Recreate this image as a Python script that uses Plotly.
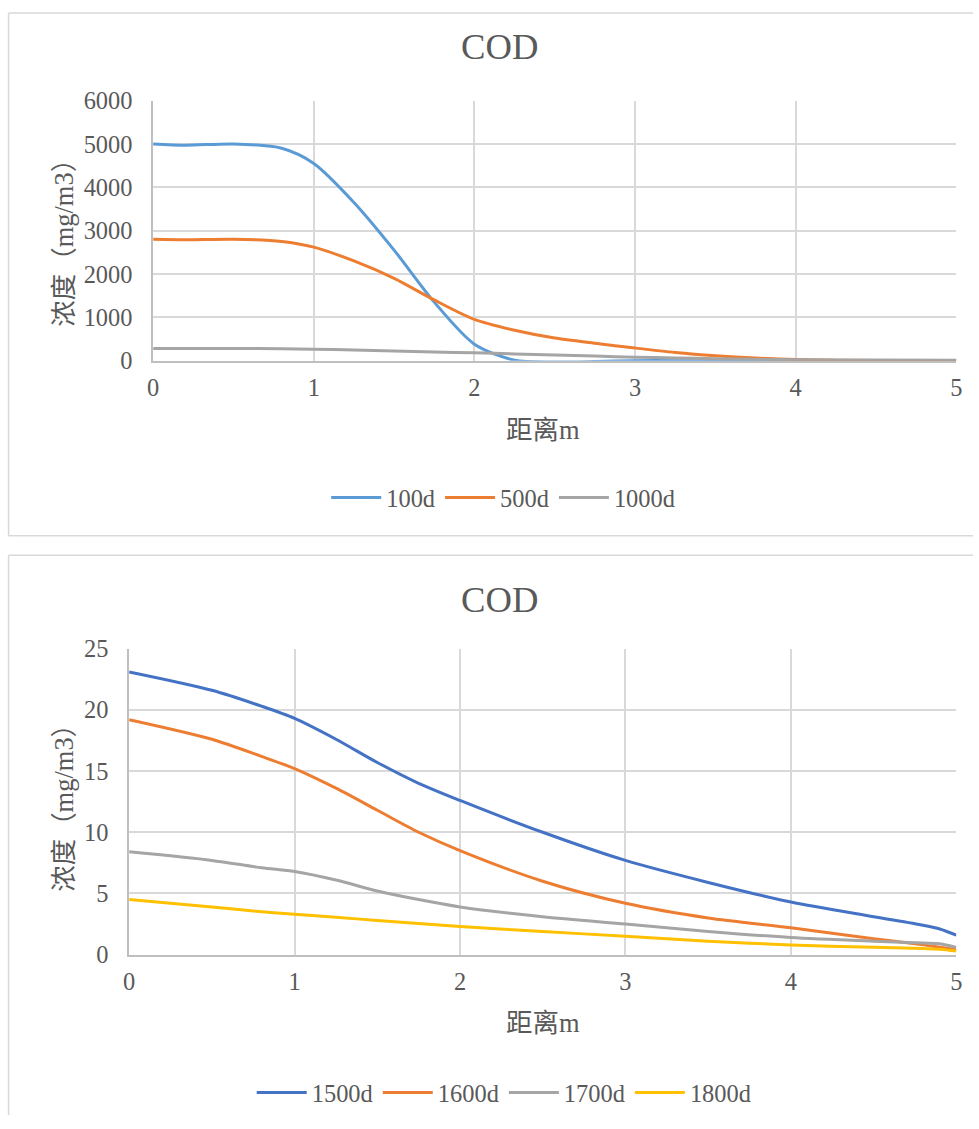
import plotly.graph_objects as go

W, H = 979, 1129

# ---- data (top chart) ----
x_top = [0, 0.2, 0.5, 0.8, 1.0, 1.25, 1.5, 1.75, 2.0, 2.25, 2.5, 2.75, 3.0, 3.25, 3.5, 3.75, 4.0, 4.5, 5.0]
y_100d = [5000, 4970, 5000, 4900, 4550, 3650, 2550, 1350, 380, 10, -30, -20, 0, 0, 0, 0, 0, 0, 0]
y_500d = [2800, 2790, 2800, 2750, 2620, 2300, 1900, 1400, 950, 700, 520, 400, 290, 190, 115, 60, 25, 5, 0]
y_1000d = [280, 280, 280, 275, 265, 245, 220, 200, 180, 155, 130, 105, 80, 60, 45, 30, 20, 12, 10]

# ---- data (bottom chart) ----
x_bot = [0, 0.5, 0.8, 1.0, 1.25, 1.5, 1.75, 2.0, 2.5, 3.0, 3.5, 4.0, 4.5, 4.8, 4.9, 5.0]
y_1500d = [23.1, 21.6, 20.3, 19.3, 17.6, 15.7, 14.0, 12.6, 10.0, 7.7, 5.9, 4.3, 3.1, 2.4, 2.1, 1.6]
y_1600d = [19.2, 17.6, 16.2, 15.2, 13.6, 11.8, 10.0, 8.5, 6.0, 4.2, 3.0, 2.2, 1.3, 0.8, 0.6, 0.4]
y_1700d = [8.4, 7.7, 7.1, 6.8, 6.1, 5.2, 4.5, 3.9, 3.1, 2.5, 1.9, 1.4, 1.1, 0.95, 0.9, 0.6]
y_1800d = [4.5, 3.9, 3.5, 3.3, 3.05, 2.8, 2.55, 2.3, 1.9, 1.5, 1.1, 0.8, 0.6, 0.5, 0.45, 0.3]

top_names = ["100d", "500d", "1000d"]
top_colors = ["#5B9BD5", "#ED7D31", "#A5A5A5"]
bot_names = ["1500d", "1600d", "1700d", "1800d"]
bot_colors = ["#4472C4", "#ED7D31", "#A5A5A5", "#FFC000"]

x_ticks = [0, 1, 2, 3, 4, 5]
top_yticks = [0, 1000, 2000, 3000, 4000, 5000, 6000]
bot_yticks = [0, 5, 10, 15, 20, 25]

SERIF = "Liberation Serif, Times New Roman, Noto Sans CJK SC, serif"
TXT = "#595959"
GRID = "#D9D9D9"

# the photographed page comes out slightly shrunk/offset; map target pixels accordingly
SX, OX = 0.9875, 4.9
SY, OY = 0.976, 13.4
FS = 1 / 0.982  # font compensation


def px(x):
    return min(max((x - OX) / SX, 0), W) / W


def py(y):
    return 1 - min(max((y - OY) / SY, 0), H) / H


fig = go.Figure()
for yv, n, c in zip([y_100d, y_500d, y_1000d], top_names, top_colors):
    fig.add_trace(go.Scatter(x=x_top, y=yv, name=n, mode="lines",
                             line=dict(color=c, width=3, shape="spline", smoothing=0.8),
                             xaxis="x", yaxis="y", legend="legend"))
for yv, n, c in zip([y_1500d, y_1600d, y_1700d, y_1800d], bot_names, bot_colors):
    fig.add_trace(go.Scatter(x=x_bot, y=yv, name=n, mode="lines",
                             line=dict(color=c, width=3, shape="spline", smoothing=0.8),
                             xaxis="x2", yaxis="y2", legend="legend2"))

axis_common = dict(showgrid=True, gridcolor=GRID, gridwidth=1.5, zeroline=False,
                   ticks="", tickfont=dict(family=SERIF, size=24 * FS, color=TXT),
                   showline=True, linecolor="#BFBFBF", linewidth=1.5)

fig.update_layout(
    width=W, height=H,
    margin=dict(l=0, r=0, t=0, b=0),
    paper_bgcolor="white", plot_bgcolor="white",
    showlegend=True,
    xaxis=dict(domain=[px(152), px(955)], range=[0, 5], tickvals=x_ticks, anchor="y",
               ticklabelstandoff=4, **axis_common),
    yaxis=dict(domain=[py(361), py(101)], range=[0, 6000], tickvals=top_yticks, anchor="x",
               ticklabelstandoff=14, **axis_common),
    xaxis2=dict(domain=[px(128), px(955)], range=[0, 5], tickvals=x_ticks, anchor="y2",
                ticklabelstandoff=4, **axis_common),
    yaxis2=dict(domain=[py(955), py(649)], range=[0, 25], tickvals=bot_yticks, anchor="x2",
                ticklabelstandoff=14, **axis_common),
    legend=dict(orientation="h", x=px(502), xanchor="center", y=py(498), yanchor="middle",
                font=dict(family=SERIF, size=24 * FS, color=TXT), itemwidth=50,
                bgcolor="rgba(0,0,0,0)"),
    legend2=dict(orientation="h", x=px(503), xanchor="center", y=py(1093), yanchor="middle",
                 font=dict(family=SERIF, size=24 * FS, color=TXT), itemwidth=50,
                 bgcolor="rgba(0,0,0,0)"),
)

# chart borders
BORDER = dict(color="#D9D9D9", width=1.5)
for (x0, y0, x1, y1) in [
    (7.5, 4.5, 1000, 4.5), (7.5, 4.5, 7.5, 536), (7.5, 536, 1000, 536),
    (7.5, 555.5, 1000, 555.5), (7.5, 555.5, 7.5, 1200),
]:
    fig.add_shape(type="line", xref="paper", yref="paper", x0=px(x0), x1=px(x1),
                  y0=py(y0), y1=py(y1), line=BORDER, layer="below")

ann = [
    dict(text="COD", x=498, y=47, size=36),
    dict(text="距离m", x=542, y=430, size=26),
    dict(text="浓度（mg/m3）", x=63, y=237, size=26, angle=-90),
    dict(text="COD", x=498, y=600, size=36),
    dict(text="距离m", x=542, y=1023, size=26),
    dict(text="浓度（mg/m3）", x=63, y=802, size=26, angle=-90),
]
for a in ann:
    fig.add_annotation(text=a["text"], x=px(a["x"]), y=py(a["y"]), xref="paper", yref="paper",
                       showarrow=False, xanchor="center", yanchor="middle",
                       textangle=a.get("angle", 0),
                       font=dict(family=SERIF, size=a["size"] * FS, color=TXT))

fig.write_html("out.html")
